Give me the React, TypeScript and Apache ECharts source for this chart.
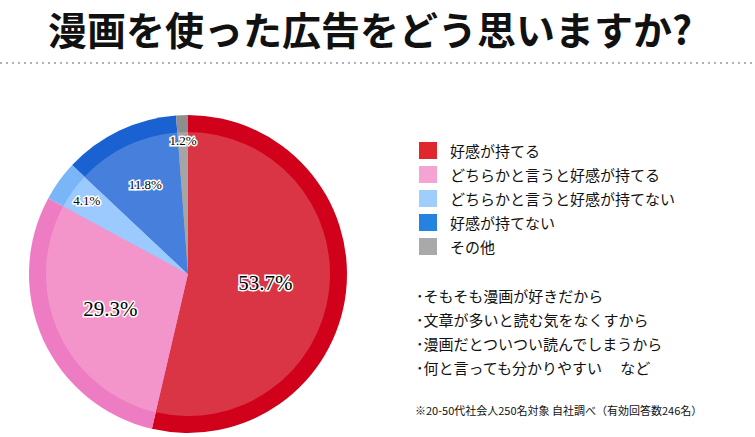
import React, { useEffect, useRef } from 'react';
import * as echarts from 'echarts';

const title = '漫画を使った広告をどう思いますか?';
const categories = [
  '好感が持てる',
  'どちらかと言うと好感が持てる',
  'どちらかと言うと好感が持てない',
  '好感が持てない',
  'その他',
];
const values = [53.7, 29.3, 4.1, 11.8, 1.2];
const innerColors = ['#d93545', '#f394ca', '#9ccaff', '#4680dc', '#a5a5a5'];
const outerColors = ['#d1001b', '#ee7cc2', '#7ab5f8', '#1a62d2', '#8e8e8e'];
const legendColors = ['#e0272d', '#f5a3d2', '#9fcdfc', '#2582e0', '#a9a9a9'];
const reasons = [
  'そもそも漫画が好きだから',
  '文章が多いと読む気をなくすから',
  '漫画だとついつい読んでしまうから',
  '何と言っても分かりやすい　 など',
];
const footnote = '※20-50代社会人250名対象 自社調べ（有効回答数246名）';

export default function App() {
  const ref = useRef<HTMLDivElement>(null);

  useEffect(() => {
    if (!ref.current) return;
    const chart = echarts.init(ref.current, undefined, { renderer: 'svg' });

    const center = [188, 274];
    const outerR = 159;
    const innerR = 142;
    const labelRadius = [75, 82, 122, 96, 131];
    const labelSize = [21, 21, 13, 13, 13];
    const cjk = '"Noto Sans CJK JP", "Noto Sans CJK SC", sans-serif';

    const labelSeries = values.map((_, i) => ({
      type: 'pie',
      silent: true,
      center,
      radius: [0, labelRadius[i] * 2],
      startAngle: 90,
      z: 5,
      labelLine: { show: false },
      data: categories.map((name, j) => ({
        name,
        value: values[j],
        itemStyle: { color: 'transparent' },
        label: { show: j === i },
      })),
      label: {
        position: 'inside',
        formatter: (p: any) => `${p.value}%`,
        fontFamily: '"Liberation Serif", "DejaVu Serif", serif',
        fontSize: labelSize[i],
        color: '#000',
        textBorderColor: '#fff',
        textBorderWidth: 3,
      },
    }));

    chart.setOption({
      animation: false,
      backgroundColor: '#fff',
      legend: {
        orient: 'vertical',
        left: 419,
        top: 142,
        padding: 0,
        itemWidth: 18,
        itemHeight: 17,
        itemGap: 7,
        icon: 'rect',
        selectedMode: false,
        data: categories.map((name, i) => ({ name, itemStyle: { color: legendColors[i] } })),
        textStyle: {
          fontFamily: cjk,
          fontSize: 15,
          lineHeight: 17,
          color: '#111',
          padding: [0, 0, 0, 8],
        },
      },
      series: [
        {
          type: 'pie',
          silent: true,
          center,
          radius: [0, outerR],
          startAngle: 90,
          label: { show: false },
          labelLine: { show: false },
          data: categories.map((name, i) => ({
            name,
            value: values[i],
            itemStyle: { color: outerColors[i], borderWidth: 0 },
          })),
        },
        {
          type: 'pie',
          silent: true,
          center,
          radius: [0, innerR],
          startAngle: 90,
          z: 3,
          label: { show: false },
          labelLine: { show: false },
          data: categories.map((name, i) => ({
            name,
            value: values[i],
            itemStyle: { color: innerColors[i], borderWidth: 0 },
          })),
        },
        ...labelSeries,
      ],
      graphic: [
        {
          type: 'text',
          x: 370,
          y: 8,
          style: {
            text: title,
            fill: '#111',
            font: `bold 39px ${cjk}`,
            lineHeight: 40,
            textAlign: 'center',
            textVerticalAlign: 'top',
          },
        },
        {
          type: 'line',
          shape: { x1: 0, y1: 63, x2: 755, y2: 63 },
          style: { stroke: '#b0b0b0', lineWidth: 2, lineDash: [2, 4] },
        },
        ...reasons.map((t, i) => ({
          type: 'text',
          x: 416,
          y: 295 + i * 24,
          style: {
            text: '･' + t,
            fill: '#111',
            font: `15px ${cjk}`,
            textVerticalAlign: 'middle',
          },
        })),
        {
          type: 'text',
          x: 415,
          y: 410,
          style: {
            text: footnote,
            fill: '#111',
            font: `11px ${cjk}`,
            textVerticalAlign: 'middle',
          },
        },
      ],
    });

    return () => chart.dispose();
  }, []);

  return (
    <div
      ref={ref}
      style={{ position: 'fixed', left: 0, top: 0, width: 755, height: 437 }}
    />
  );
}
